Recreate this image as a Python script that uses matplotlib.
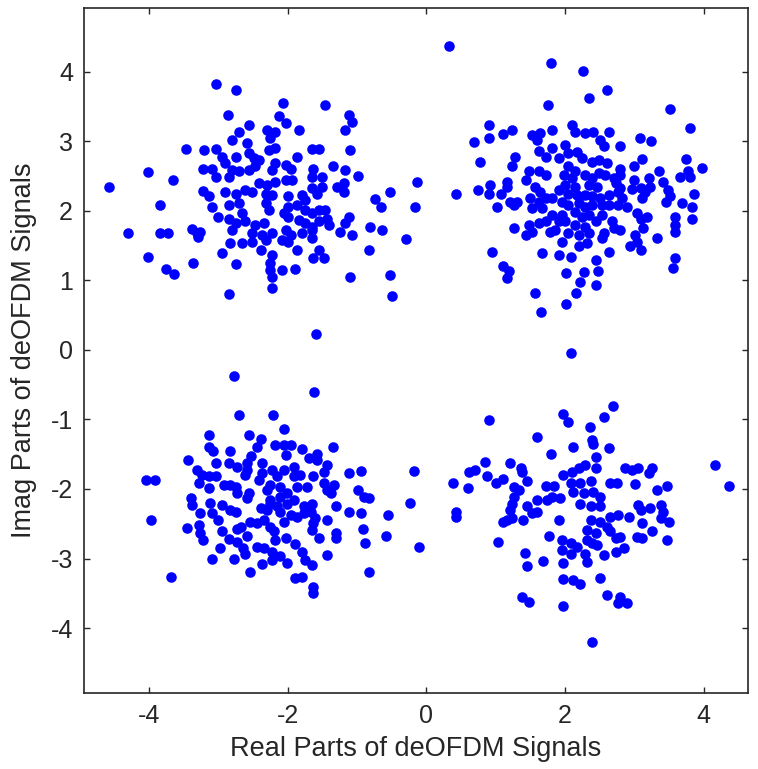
import matplotlib
matplotlib.use("Agg")
import matplotlib.pyplot as plt

# Demodulated OFDM constellation points (real, imaginary), one list per quadrant
upper_left = [
    (-3.47, 2.89), (-3.21, 2.87), (-4.01, 2.56), (-3.65, 2.44), (-3.22, 2.60), (-4.58, 2.35),
    (-3.22, 2.29), (-3.84, 2.08), (-4.31, 1.68), (-3.84, 1.68), (-3.73, 1.68), (-3.38, 1.74),
    (-3.31, 1.68), (-3.26, 1.70), (-3.30, 1.63), (-4.01, 1.34), (-3.76, 1.17), (-3.64, 1.10),
    (-3.37, 1.25),
    (-3.04, 3.83), (-2.74, 3.74), (-2.07, 3.56), (-1.47, 3.53), (-2.86, 3.38), (-2.13, 3.36),
    (-2.03, 3.26), (-2.56, 3.24), (-2.71, 3.14), (-2.30, 3.17), (-2.18, 3.14), (-2.25, 3.05),
    (-1.84, 3.17), (-2.80, 3.02), (-2.59, 2.98), (-2.27, 2.88), (-2.18, 2.90), (-3.04, 2.89),
    (-1.65, 2.89), (-1.55, 2.89), (-2.95, 2.78), (-2.75, 2.77), (-2.56, 2.83), (-2.49, 2.76),
    (-2.42, 2.73), (-1.87, 2.77), (-1.63, 2.61), (-2.18, 2.69), (-2.03, 2.66), (-1.96, 2.61),
    (-3.09, 2.61), (-2.90, 2.69), (-2.80, 2.59), (-2.71, 2.57), (-2.56, 2.59), (-2.47, 2.64),
    (-2.23, 2.59), (-3.04, 2.49), (-2.85, 2.49), (-1.65, 2.49), (-1.50, 2.49), (-2.42, 2.40),
    (-2.30, 2.37), (-2.18, 2.42), (-2.03, 2.45), (-1.94, 2.45), (-2.61, 2.30), (-2.51, 2.28),
    (-2.90, 2.28), (-2.75, 2.25), (-3.14, 2.21), (-2.32, 2.25), (-2.23, 2.23), (-1.99, 2.21),
    (-1.79, 2.23), (-1.75, 2.16), (-1.65, 2.33), (-1.58, 2.25), (-1.50, 2.35), (-3.09, 2.06),
    (-2.85, 2.09), (-2.71, 2.11), (-2.32, 2.11), (-2.27, 2.01), (-1.99, 2.06), (-1.87, 2.09),
    (-1.75, 2.01), (-1.65, 1.97), (-1.55, 2.01), (-3.00, 1.92), (-2.85, 1.89), (-2.66, 1.97),
    (-2.06, 1.97), (-1.99, 1.92), (-2.75, 1.82), (-2.61, 1.85), (-2.47, 1.80), (-2.35, 1.82),
    (-1.84, 1.87), (-1.75, 1.82), (-1.65, 1.77), (-1.55, 1.85), (-2.80, 1.73), (-2.51, 1.68),
    (-2.37, 1.65), (-2.23, 1.68), (-2.03, 1.73), (-1.96, 1.65), (-1.79, 1.68), (-1.65, 1.73),
    (-2.08, 1.58), (-1.99, 1.56), (-2.83, 1.54), (-2.66, 1.54), (-2.51, 1.56), (-2.32, 1.58),
    (-1.65, 1.61), (-1.87, 1.44), (-2.39, 1.44), (-2.95, 1.39), (-2.23, 1.37), (-1.55, 1.44),
    (-1.63, 1.32), (-1.48, 1.32), (-2.75, 1.23), (-2.25, 1.25), (-2.25, 1.15), (-2.23, 1.05),
    (-2.08, 1.15), (-1.89, 1.17), (-2.23, 0.89), (-2.85, 0.81),
    (-1.12, 3.38), (-1.07, 3.28), (-1.17, 3.17), (-1.10, 2.87), (-1.35, 2.65), (-1.17, 2.59),
    (-0.98, 2.50), (-1.29, 2.35), (-1.19, 2.40), (-1.19, 2.28), (-0.13, 2.41), (-0.52, 2.28),
    (-0.74, 2.17), (-0.65, 2.05), (-0.16, 2.05), (-1.46, 2.01), (-1.43, 1.89), (-1.41, 1.80),
    (-1.12, 1.92), (-1.17, 1.82), (-1.25, 1.70), (-1.07, 1.65), (-0.81, 1.77), (-0.64, 1.73),
    (-0.29, 1.59), (-0.83, 1.44), (-1.10, 1.05), (-0.53, 1.08), (-0.49, 0.77),
]

upper_right = [
    (0.32, 4.38), (0.90, 3.24), (0.90, 3.05), (1.11, 3.11), (1.23, 3.17), (0.68, 2.99),
    (0.78, 2.71), (1.28, 2.77), (1.24, 2.65), (1.16, 2.42), (1.16, 2.35), (0.42, 2.25),
    (0.75, 2.30), (0.92, 2.37), (0.90, 2.24), (1.07, 2.25), (1.21, 2.13), (1.31, 2.13),
    (1.26, 2.09), (1.02, 2.05), (1.26, 1.75), (0.95, 1.41), (1.11, 1.21), (1.19, 1.13),
    (1.16, 1.03),
    (1.80, 4.13), (2.26, 4.01), (2.60, 3.74), (2.35, 3.62), (1.75, 3.53), (2.10, 3.24),
    (2.15, 3.14), (1.52, 3.09), (1.64, 3.12), (1.60, 3.02), (1.81, 3.17), (2.29, 3.12),
    (2.41, 3.14), (2.63, 3.14), (2.51, 3.02), (2.56, 2.93), (2.80, 2.93), (1.62, 2.86),
    (1.81, 2.90), (1.72, 2.78), (2.00, 2.95), (2.05, 2.83), (2.17, 2.85), (2.25, 2.76),
    (1.91, 2.76), (2.39, 2.71), (2.49, 2.73), (2.61, 2.69), (2.05, 2.64), (2.15, 2.57),
    (2.80, 2.61), (1.48, 2.57), (1.62, 2.57), (1.72, 2.52), (1.98, 2.52), (2.10, 2.47),
    (2.29, 2.52), (2.39, 2.47), (2.49, 2.54), (2.58, 2.52), (2.70, 2.47), (2.80, 2.52),
    (2.00, 2.37), (2.15, 2.35), (2.34, 2.37), (2.46, 2.35), (2.73, 2.40), (2.80, 2.33),
    (1.57, 2.35), (1.64, 2.28), (1.43, 2.45), (1.91, 2.30), (2.05, 2.25), (2.17, 2.23),
    (2.29, 2.23), (2.39, 2.21), (2.51, 2.18), (2.63, 2.23), (2.77, 2.28), (2.82, 2.18),
    (1.50, 2.18), (1.62, 2.13), (1.72, 2.18), (1.81, 2.18), (1.96, 2.13), (2.05, 2.09),
    (2.20, 2.11), (2.29, 2.06), (2.39, 2.09), (2.53, 2.09), (2.63, 2.09), (2.77, 2.09),
    (1.52, 2.04), (1.67, 2.04), (1.81, 1.94), (1.96, 1.94), (2.15, 1.99), (2.25, 1.92),
    (2.34, 1.94), (2.53, 1.94), (2.68, 1.85), (2.70, 1.75), (1.48, 1.80), (1.62, 1.82),
    (1.72, 1.85), (1.91, 1.85), (2.00, 1.85), (2.15, 1.80), (2.29, 1.77), (2.44, 1.85),
    (1.43, 1.65), (1.52, 1.70), (1.79, 1.70), (1.86, 1.73), (2.05, 1.68), (2.20, 1.65),
    (2.34, 1.68), (2.56, 1.68), (2.53, 1.61), (1.96, 1.56), (2.20, 1.49), (2.32, 1.54),
    (2.63, 1.41), (1.67, 1.39), (1.91, 1.36), (2.08, 1.34), (2.44, 1.29), (2.02, 1.11),
    (2.27, 1.12), (2.22, 0.98), (2.48, 1.14), (2.44, 0.94), (2.16, 0.82), (1.56, 0.82),
    (2.02, 0.66), (1.66, 0.54),
    (3.51, 3.47), (3.81, 3.20), (3.08, 3.05), (3.24, 3.01), (3.11, 2.75), (2.99, 2.65),
    (3.75, 2.75), (3.97, 2.62), (3.66, 2.49), (3.78, 2.57), (3.81, 2.49), (3.35, 2.57),
    (2.99, 2.44), (3.21, 2.47), (3.23, 2.35), (3.42, 2.42), (2.97, 2.32), (3.09, 2.33),
    (3.16, 2.28), (3.49, 2.30), (3.52, 2.21), (3.11, 2.18), (3.45, 2.13), (3.69, 2.11),
    (3.86, 2.25), (2.89, 2.06), (3.83, 2.06), (3.04, 1.97), (3.18, 1.92), (3.09, 1.89),
    (3.59, 1.92), (3.59, 1.80), (3.59, 1.70), (3.83, 1.89), (3.13, 1.75), (3.01, 1.65),
    (3.04, 1.56), (3.33, 1.61), (2.94, 1.49), (3.09, 1.44), (2.80, 1.73), (3.59, 1.33),
    (3.56, 1.18),
]

lower_left = [
    (-2.77, -0.38), (-2.71, -0.93), (-2.22, -0.93), (-3.13, -1.22), (-2.56, -1.22), (-2.38, -1.28),
    (-2.44, -1.39), (-2.19, -1.36), (-3.13, -1.40), (-3.08, -1.46), (-2.84, -1.46), (-2.53, -1.53),
    (-2.59, -1.63), (-3.44, -1.58), (-3.04, -1.62), (-2.85, -1.63), (-2.73, -1.68), (-2.37, -1.63),
    (-2.37, -1.77), (-3.31, -1.73), (-3.24, -1.80), (-3.14, -1.82), (-3.04, -1.82), (-2.59, -1.73),
    (-2.61, -1.80), (-2.42, -1.87), (-3.28, -1.92), (-2.92, -1.94), (-2.83, -1.94), (-2.75, -1.97),
    (-2.73, -2.06), (-3.13, -1.98), (-2.56, -2.06), (-2.59, -2.13), (-2.30, -2.01), (-2.25, -2.16),
    (-3.40, -2.13), (-3.38, -2.23), (-3.12, -2.20), (-2.95, -2.23), (-2.83, -2.30), (-2.75, -2.33),
    (-3.26, -2.35), (-3.09, -2.35), (-3.00, -2.45), (-2.39, -2.28), (-2.30, -2.30), (-2.54, -2.47),
    (-2.44, -2.49), (-2.35, -2.45), (-3.98, -2.44), (-3.46, -2.56), (-3.28, -2.52), (-3.26, -2.64),
    (-3.22, -2.73), (-2.95, -2.61), (-2.73, -2.57), (-2.68, -2.54), (-2.59, -2.68), (-2.85, -2.72),
    (-2.73, -2.76), (-2.20, -2.61), (-2.18, -2.73), (-2.98, -2.85), (-2.64, -2.85), (-2.61, -2.93),
    (-2.44, -2.83), (-2.35, -2.85), (-2.23, -2.90), (-3.10, -3.01), (-2.77, -3.01), (-2.37, -3.08),
    (-2.23, -3.02), (-2.55, -3.19), (-3.68, -3.26), (-4.05, -1.87), (-3.92, -1.87),
    (-1.59, 0.23), (-1.62, -0.61), (-2.05, -1.14), (-2.06, -1.37), (-1.96, -1.37), (-2.03, -1.51),
    (-1.79, -1.43), (-1.70, -1.56), (-1.58, -1.49), (-1.58, -1.58), (-1.35, -1.40), (-1.43, -1.65),
    (-1.48, -1.75), (-1.11, -1.77), (-0.95, -1.74), (-0.18, -1.74), (-2.23, -1.73), (-2.15, -1.82),
    (-2.06, -1.73), (-1.91, -1.68), (-1.91, -1.82), (-1.82, -1.80), (-1.63, -1.82), (-2.25, -1.94),
    (-2.11, -1.97), (-2.11, -2.11), (-2.01, -2.06), (-1.87, -1.97), (-1.72, -1.97), (-1.48, -1.92),
    (-1.43, -2.01), (-1.34, -1.94), (-1.38, -2.06), (-0.98, -2.01), (-0.90, -2.11), (-0.83, -2.13),
    (-2.25, -2.21), (-2.15, -2.25), (-2.01, -2.21), (-1.91, -2.16), (-1.77, -2.25), (-1.65, -2.21),
    (-1.31, -2.25), (-1.12, -2.33), (-0.95, -2.34), (-0.56, -2.37), (-0.24, -2.20), (-2.11, -2.33),
    (-1.96, -2.37), (-2.06, -2.47), (-1.87, -2.40), (-1.77, -2.35), (-1.67, -2.33), (-1.60, -2.42),
    (-1.43, -2.45), (-1.63, -2.49), (-2.25, -2.54), (-2.03, -2.71), (-1.65, -2.59), (-1.55, -2.71),
    (-1.31, -2.64), (-1.31, -2.71), (-0.91, -2.57), (-0.88, -2.77), (-0.59, -2.68), (-0.10, -2.83),
    (-1.89, -2.79), (-2.11, -2.97), (-2.01, -3.07), (-1.79, -2.90), (-1.75, -3.02), (-1.65, -3.09),
    (-1.43, -2.95), (-0.83, -3.19), (-1.89, -3.28), (-1.79, -3.26), (-1.63, -3.41), (-1.63, -3.50),
]

lower_right = [
    (0.90, -1.01), (1.60, -1.25), (1.97, -0.92), (1.80, -1.50), (0.39, -1.92), (0.60, -1.98),
    (0.61, -1.75), (0.70, -1.73), (0.84, -1.61), (0.87, -1.82), (1.00, -1.92), (1.11, -1.85),
    (1.20, -1.62), (1.36, -1.70), (1.38, -1.75), (1.45, -1.89), (1.26, -1.97), (1.33, -2.01),
    (1.26, -2.11), (1.24, -2.21), (1.21, -2.30), (1.16, -2.45), (1.24, -2.42), (0.42, -2.33),
    (0.42, -2.40), (1.11, -2.47), (1.04, -2.76), (1.45, -2.25), (1.40, -2.45), (1.52, -2.35),
    (1.60, -2.33), (1.60, -2.16), (1.74, -2.16), (1.72, -1.95), (1.84, -1.95), (1.81, -2.11),
    (1.93, -2.13), (1.97, -1.80), (1.92, -2.45), (1.77, -2.68), (1.96, -2.73), (1.96, -2.88),
    (1.42, -2.92), (1.45, -3.11), (1.68, -3.04), (1.97, -3.07), (1.97, -3.29), (1.38, -3.55),
    (1.48, -3.62), (1.97, -3.69),
    (2.08, -0.04), (2.69, -0.80), (2.56, -0.96), (2.05, -1.03), (2.36, -1.11), (2.39, -1.29),
    (2.41, -1.35), (2.64, -1.41), (2.12, -1.40), (2.45, -1.54), (2.29, -1.65), (2.20, -1.70),
    (2.10, -1.75), (2.44, -1.70), (2.87, -1.70), (2.97, -1.73), (3.06, -1.70), (3.26, -1.70),
    (3.21, -1.77), (4.17, -1.65), (4.36, -1.95), (2.65, -1.92), (2.75, -1.92), (3.01, -1.93),
    (3.33, -2.01), (3.47, -1.96), (2.08, -1.92), (2.22, -1.92), (2.37, -1.89), (2.12, -2.04),
    (2.27, -2.06), (2.41, -2.04), (2.51, -2.11), (2.22, -2.21), (2.37, -2.25), (2.51, -2.25),
    (3.06, -2.23), (3.09, -2.30), (3.23, -2.28), (3.38, -2.23), (3.42, -2.33), (2.65, -2.40),
    (2.77, -2.37), (2.92, -2.40), (2.37, -2.45), (2.51, -2.47), (3.11, -2.49), (3.38, -2.42),
    (3.50, -2.47), (2.32, -2.59), (2.61, -2.54), (2.65, -2.61), (3.04, -2.69), (3.11, -2.71),
    (3.26, -2.61), (2.73, -2.71), (2.80, -2.69), (3.47, -2.74), (2.08, -2.78), (2.08, -2.93),
    (2.17, -2.83), (2.32, -2.73), (2.39, -2.78), (2.29, -2.93), (2.32, -3.05), (2.44, -2.64),
    (2.46, -2.81), (2.56, -2.95), (2.73, -2.90), (2.85, -2.85), (2.12, -3.31), (2.22, -3.36),
    (2.51, -3.28), (2.61, -3.53), (2.80, -3.55), (2.77, -3.64), (2.89, -3.64), (2.39, -4.20),
]

x_ticks = [-4, -2, 0, 2, 4]
y_ticks = [-4, -3, -2, -1, 0, 1, 2, 3, 4]

plt.rcParams['font.family'] = ['Liberation Sans', 'DejaVu Sans']
plt.rcParams['axes.unicode_minus'] = False

W, H = 758, 769
fig = plt.figure(figsize=(W / 100, H / 100), dpi=100)
ax = fig.add_axes([84 / W, 1 - 693 / H, (748 - 84) / W, (693 - 8) / H])

for quadrant in (upper_left, upper_right, lower_left, lower_right):
    re, im = zip(*quadrant)
    ax.plot(re, im, linestyle='none', marker='o', markersize=7.6,
            color='#0000ff', markeredgewidth=0)

ax.set_xlim(-4.94, 4.64)
ax.set_ylim(-4.935, 4.92)
ax.set_xticks(x_ticks)
ax.set_yticks(y_ticks)
ax.tick_params(direction='in', length=4, width=1, top=True, right=True,
               labelsize=18, colors='#262626', pad=8)
for s in ax.spines.values():
    s.set_linewidth(1.2)
    s.set_color('#262626')

ax.set_xlabel('Real Parts of deOFDM Signals', fontsize=19.5, color='#262626', labelpad=6)
ax.set_ylabel('Imag Parts of deOFDM Signals', fontsize=19.5, color='#262626', labelpad=10)

fig.savefig('out.png', dpi=100, facecolor='white')
